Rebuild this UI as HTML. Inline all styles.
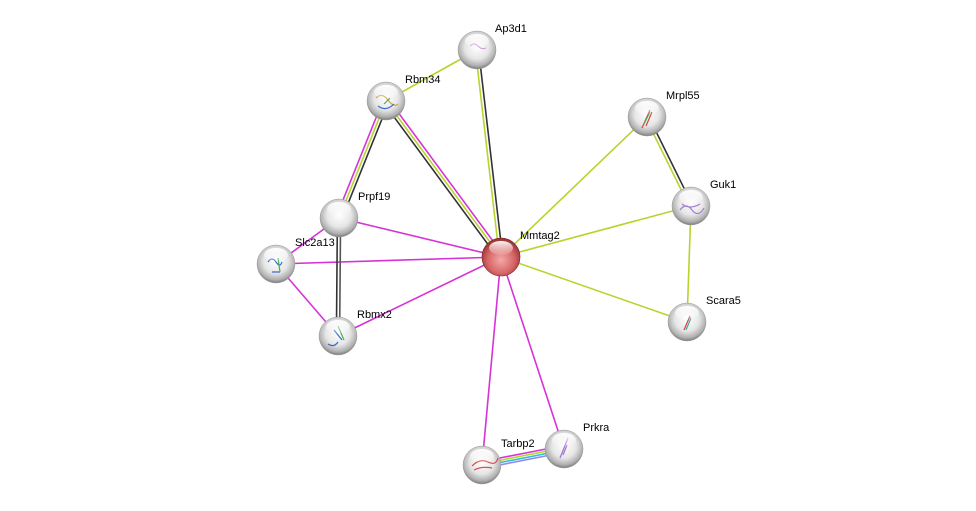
<!DOCTYPE html>
<html><head><meta charset="utf-8"><style>
html,body{margin:0;padding:0;background:#fff;width:976px;height:511px;overflow:hidden}
text{font-family:"Liberation Sans",Arial,sans-serif;font-size:11px;fill:#000}
</style></head><body>
<svg width="976" height="511" viewBox="0 0 976 511" xmlns="http://www.w3.org/2000/svg">
<defs>
<radialGradient id="g" cx="50%" cy="42%" r="58%">
<stop offset="0" stop-color="#ffffff"/><stop offset="0.55" stop-color="#e6e6e6"/><stop offset="0.85" stop-color="#b0b0b0"/><stop offset="1" stop-color="#7c7c7c"/>
</radialGradient>
<radialGradient id="r" cx="50%" cy="58%" r="60%">
<stop offset="0" stop-color="#f4a8a8"/><stop offset="0.6" stop-color="#d66464"/><stop offset="1" stop-color="#8a2a2a"/>
</radialGradient>
<linearGradient id="hl" x1="0" y1="0" x2="0" y2="1">
<stop offset="0" stop-color="#fff" stop-opacity="0.95"/><stop offset="1" stop-color="#fff" stop-opacity="0.1"/>
</linearGradient>
</defs>
<g stroke-width="1.6" fill="none">
<g stroke="#d633d6">
<line x1="339" y1="218" x2="501" y2="257"/>
<line x1="276" y1="264" x2="501" y2="257"/>
<line x1="276" y1="264" x2="338" y2="336"/>
<line x1="276" y1="264" x2="339" y2="218"/>
<line x1="338" y1="336" x2="501" y2="257"/>
<line x1="501" y1="257" x2="482" y2="465"/>
<line x1="501" y1="257" x2="564" y2="449"/>
</g>
<g stroke="#b8d42c">
<line x1="477" y1="50" x2="386" y2="101"/>
<line x1="647" y1="117" x2="501" y2="257"/>
<line x1="691" y1="206" x2="501" y2="257"/>
<line x1="691" y1="206" x2="687" y2="322"/>
<line x1="687" y1="322" x2="501" y2="257"/>
</g>
<line x1="475.4" y1="50" x2="499.4" y2="257" stroke="#b8d42c"/>
<line x1="478.6" y1="50" x2="502.6" y2="257" stroke="#333"/>
<line x1="388.4" y1="99.2" x2="503.4" y2="255.2" stroke="#d633d6"/>
<line x1="386" y1="101" x2="501" y2="257" stroke="#b8d42c"/>
<line x1="383.6" y1="102.8" x2="498.6" y2="258.8" stroke="#333"/>
<line x1="383.2" y1="99.9" x2="336.2" y2="216.9" stroke="#d633d6"/>
<line x1="386" y1="101" x2="339" y2="218" stroke="#b8d42c"/>
<line x1="388.8" y1="102.1" x2="341.8" y2="219.1" stroke="#333"/>
<line x1="337.4" y1="218" x2="336.4" y2="336" stroke="#333"/>
<line x1="340.6" y1="218" x2="339.6" y2="336" stroke="#555"/>
<line x1="645.5" y1="117.7" x2="689.5" y2="206.7" stroke="#b8d42c"/>
<line x1="648.5" y1="116.3" x2="692.5" y2="205.3" stroke="#333"/>
<line x1="482" y1="461.5" x2="564" y2="445.5" stroke="#d633d6"/>
<line x1="482" y1="463.8" x2="564" y2="447.8" stroke="#b8d42c"/>
<line x1="482" y1="466.1" x2="564" y2="450.1" stroke="#33bcd8"/>
<line x1="482" y1="468.4" x2="564" y2="452.4" stroke="#8c8cf0"/>
</g>
<g stroke="#999" stroke-width="0.5">
<circle cx="477" cy="50" r="19" fill="url(#g)"/>
<circle cx="386" cy="101" r="19" fill="url(#g)"/>
<circle cx="647" cy="117" r="19" fill="url(#g)"/>
<circle cx="691" cy="206" r="19" fill="url(#g)"/>
<circle cx="339" cy="218" r="19" fill="url(#g)"/>
<circle cx="276" cy="264" r="19" fill="url(#g)"/>
<circle cx="338" cy="336" r="19" fill="url(#g)"/>
<circle cx="687" cy="322" r="19" fill="url(#g)"/>
<circle cx="564" cy="449" r="19" fill="url(#g)"/>
<circle cx="482" cy="465" r="19" fill="url(#g)"/>
</g>
<circle cx="501" cy="257" r="19" fill="url(#r)" stroke="#7a2020" stroke-width="0.6"/>
<g fill="none" stroke-width="1.2">
<path d="M470 46 q4 -4 8 0 t8 2" stroke="#c9a0e0"/>
<path d="M376 98 q6 -6 12 2 t10 4" stroke="#d0a050"/>
<path d="M378 106 q8 6 16 -2" stroke="#3a6ad0"/>
<path d="M384 104 l6 -6" stroke="#4ab050"/>
<path d="M642 128 l8 -18 M646 126 l6 -14" stroke="#d84040"/>
<path d="M644 124 l6 -12" stroke="#40b050"/>
<path d="M680 210 q6 -8 12 0 t12 -2 M682 204 q8 6 18 0" stroke="#a080d0"/>
<path d="M268 262 q4 -6 8 0 t6 0 M272 272 l8 0" stroke="#3a6ad0"/>
<path d="M278 258 l2 14" stroke="#40b050"/>
<path d="M328 344 q6 4 10 -2 M334 330 l8 10" stroke="#3a6ad0"/>
<path d="M338 326 l6 14" stroke="#40b050"/>
<path d="M684 330 l6 -14" stroke="#d04040"/>
<path d="M686 330 l5 -12" stroke="#40b0a0"/>
<path d="M560 458 l8 -20 M563 455 l4 -10" stroke="#a070d0"/>
<path d="M472 466 q8 -8 16 -4 t10 -4 M474 470 q8 -4 18 -2" stroke="#d84848"/>
</g>
<g fill="url(#hl)">
<ellipse cx="477" cy="41" rx="12" ry="7"/><ellipse cx="386" cy="92" rx="12" ry="7"/>
<ellipse cx="647" cy="108" rx="12" ry="7"/><ellipse cx="691" cy="197" rx="12" ry="7"/>
<ellipse cx="339" cy="209" rx="12" ry="7"/><ellipse cx="276" cy="255" rx="12" ry="7"/>
<ellipse cx="338" cy="327" rx="12" ry="7"/><ellipse cx="687" cy="313" rx="12" ry="7"/>
<ellipse cx="564" cy="440" rx="12" ry="7"/><ellipse cx="482" cy="456" rx="12" ry="7"/>
<ellipse cx="501" cy="248" rx="12" ry="7"/>
</g>
<text x="495" y="32">Ap3d1</text>
<text x="405" y="83">Rbm34</text>
<text x="666" y="99">Mrpl55</text>
<text x="710" y="188">Guk1</text>
<text x="358" y="200">Prpf19</text>
<text x="520" y="239">Mmtag2</text>
<text x="295" y="246">Slc2a13</text>
<text x="357" y="318">Rbmx2</text>
<text x="706" y="304">Scara5</text>
<text x="583" y="431">Prkra</text>
<text x="501" y="447">Tarbp2</text>
</svg>
</body></html>
